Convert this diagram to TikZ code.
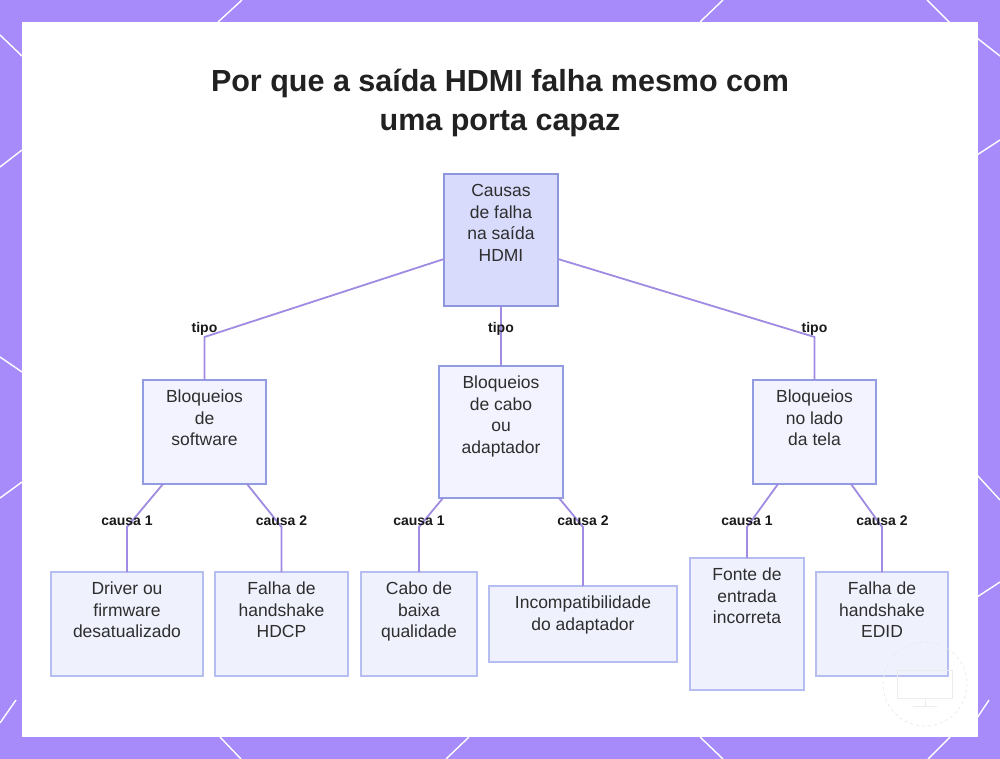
\documentclass[tikz,border=0pt]{standalone}
\usepackage{fontspec}
\setmainfont{Liberation Sans}
\definecolor{bgpurple}{HTML}{A78BFA}
\definecolor{rootfill}{HTML}{D8DBFB}
\definecolor{rootdraw}{HTML}{8E97DD}
\definecolor{midfill}{HTML}{F2F3FE}
\definecolor{middraw}{HTML}{929CE2}
\definecolor{leaffill}{HTML}{EFF1FD}
\definecolor{leafdraw}{HTML}{B6BEF1}
\definecolor{edgecol}{HTML}{A08BE3}
\definecolor{txt}{HTML}{2E2E2E}
\newcommand{\bxt}[3]{\parbox[c][#2pt][t]{#1pt}{\centering\fontsize{17.5}{21.7}\selectfont\rule{0pt}{22.5pt}#3}}
\tikzset{
  basebox/.style={inner sep=0pt, outer sep=0pt, text=txt, line width=1.3pt},
  rootbox/.style={basebox, fill=rootfill, draw=rootdraw},
  midbox/.style={basebox, fill=midfill, draw=middraw},
  leafbox/.style={basebox, fill=leaffill, draw=leafdraw},
  edge/.style={draw=edgecol, line width=1.8pt},
  elabel/.style={font=\bfseries\fontsize{14}{16}\selectfont, text=black!90, inner sep=1pt},
  deco/.style={draw=white, line width=1.4pt}
}
\begin{document}
\begin{tikzpicture}[x=1pt,y=-1pt]
\useasboundingbox (0,0) rectangle (1000,759);
\fill[bgpurple] (0,0) rectangle (1000,759);
% decorative diagonal lines
\draw[deco] (218,22) -- (242,0);
\draw[deco] (700,22) -- (723,0);
\draw[deco] (927,0) -- (950,23);
\draw[deco] (977,38) -- (1000,56);
\draw[deco] (0,35) -- (22,56);
\draw[deco] (0,167) -- (22,150);
\draw[deco] (0,357) -- (22,372);
\draw[deco] (0,498) -- (22,482);
\draw[deco] (0,723) -- (16,700);
\draw[deco] (977,155) -- (1000,140);
\draw[deco] (977,475) -- (1000,500);
\draw[deco] (977,597) -- (1000,582);
\draw[deco] (977,718) -- (989,700);
\draw[deco] (220,737) -- (241,759);
\draw[deco] (469,737) -- (446,759);
\draw[deco] (700,737) -- (723,759);
\draw[deco] (950,737) -- (928,759);
% panel
\fill[white] (22,22) rectangle (978,737);
% title
\node[font=\bfseries\fontsize{30.5}{39}\selectfont, text=black!87, align=center] (title) at (500,103) {Por que a saída HDMI falha mesmo com\\uma porta capaz};
% nodes
\node[rootbox] (root) at (501,240) {\bxt{114}{132}{Causas\\de falha\\na saída\\HDMI}};
\node[midbox] (soft) at (204.5,432) {\bxt{123}{104}{Bloqueios\\de\\software}};
\node[midbox] (cabo) at (501,432) {\bxt{124}{132}{Bloqueios\\de cabo\\ou\\adaptador}};
\node[midbox] (tela) at (814.5,432) {\bxt{123}{104}{Bloqueios\\no lado\\da tela}};
\node[leafbox] (driver) at (127,624) {\bxt{152}{104}{Driver ou\\firmware\\desatualizado}};
\node[leafbox] (hdcp) at (281.5,624) {\bxt{133}{104}{Falha de\\handshake\\HDCP}};
\node[leafbox] (cabol) at (419,624) {\bxt{116}{104}{Cabo de\\baixa\\qualidade}};
\node[leafbox] (incomp) at (583,624) {\bxt{188}{76}{Incompatibilidade\\do adaptador}};
\node[leafbox] (fonte) at (747,624) {\bxt{114}{132}{Fonte de\\entrada\\incorreta}};
\node[leafbox] (edid) at (882,624) {\bxt{132}{104}{Falha de\\handshake\\EDID}};
% faint watermark (on top, very light)
\draw[white!85!gray, line width=0.8pt, dashed] (925,684) circle (42);
\draw[white!85!gray, line width=1pt] (897,670) rectangle (952,698);
\draw[white!85!gray, line width=1pt] (915,698) -- (935,698) (925,698) -- (925,706) (913,706) -- (937,706);
% bend coordinates
\coordinate (b1) at (204.5,337);
\coordinate (b3) at (814.5,337);
\coordinate (c1) at (127,527);
\coordinate (c2) at (281.5,527);
\coordinate (c3) at (419,527);
\coordinate (c4) at (583,527);
\coordinate (c5) at (747,527);
\coordinate (c6) at (882,527);
% edges
\draw[edge] ([yshift=47pt]root.south west) -- (b1) -- (soft.north);
\draw[edge] (root.south) -- (cabo.north);
\draw[edge] ([yshift=47pt]root.south east) -- (b3) -- (tela.north);
\draw[edge] ([xshift=20pt]soft.south west) -- (c1) -- (driver.north);
\draw[edge] ([xshift=-19pt]soft.south east) -- (c2) -- (hdcp.north);
\draw[edge] ([xshift=4pt]cabo.south west) -- (c3) -- (cabol.north);
\draw[edge] ([xshift=-4pt]cabo.south east) -- (c4) -- (incomp.north);
\draw[edge] ([xshift=25pt]tela.south west) -- (c5) -- (fonte.north);
\draw[edge] ([xshift=-25pt]tela.south east) -- (c6) -- (edid.north);
% edge labels
\node[elabel] (l1) at (204.5,329) {tipo};
\node[elabel] (l2) at (501,329) {tipo};
\node[elabel] (l3) at (814.5,329) {tipo};
\node[elabel] (l4) at (127,521) {causa 1};
\node[elabel] (l5) at (281.5,521) {causa 2};
\node[elabel] (l6) at (419,521) {causa 1};
\node[elabel] (l7) at (583,521) {causa 2};
\node[elabel] (l8) at (747,521) {causa 1};
\node[elabel] (l9) at (882,521) {causa 2};
\end{tikzpicture}
\end{document}
